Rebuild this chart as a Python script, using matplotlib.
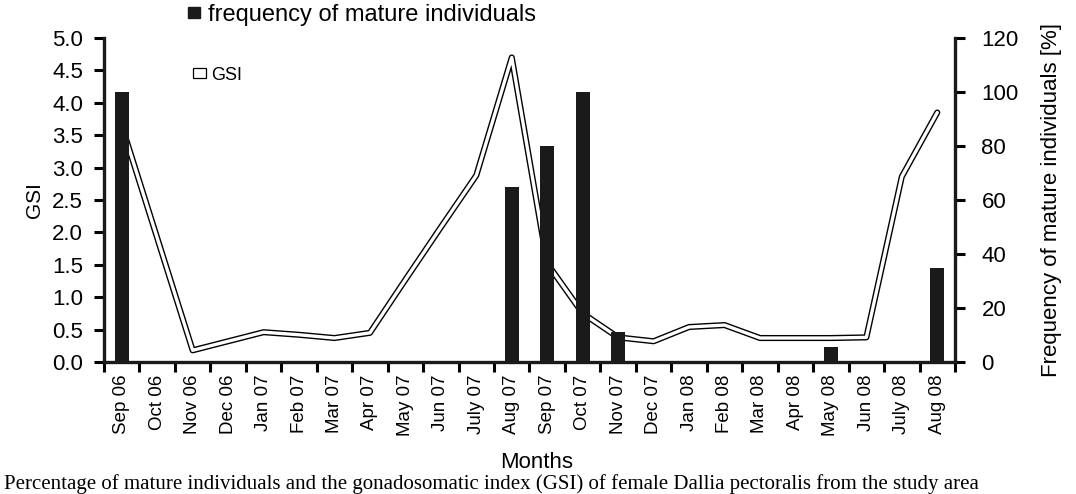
import numpy as np
import matplotlib
matplotlib.use("Agg")
import matplotlib.pyplot as plt
from matplotlib.patches import Patch

plt.rcParams["font.family"] = ["Liberation Sans", "DejaVu Sans"]

months = ["Sep 06", "Oct 06", "Nov 06", "Dec 06", "Jan 07", "Feb 07", "Mar 07", "Apr 07",
          "May 07", "Jun 07", "July 07", "Aug 07", "Sep 07", "Oct 07", "Nov 07", "Dec 07",
          "Jan 08", "Feb 08", "Mar 08", "Apr 08", "May 08", "Jun 08", "July 08", "Aug 08"]
gsi = [3.65, 2.0, 0.18, 0.32, 0.46, 0.42, 0.37, 0.45,
       1.27, 2.08, 2.88, 4.70, 1.52, 0.75, 0.38, 0.32,
       0.54, 0.57, 0.37, 0.37, 0.37, 0.38, 2.86, 3.85]
# frequency of mature individuals [%] (right axis); 0 where no bar
mature = [100, 0, 0, 0, 0, 0, 0, 0,
          0, 0, 0, 65, 80, 100, 11, 0,
          0, 0, 0, 0, 5.5, 0, 0, 35]

caption = ("Percentage of mature individuals and the gonadosomatic index (GSI) of female "
           "Dallia pectoralis from the study area")

BAR = "#1a1a1a"
W, H = 1076, 494

fig = plt.figure(figsize=(W / 100, H / 100), dpi=100)
ax = fig.add_axes([104 / W, 1 - 362 / H, (955 - 104) / W, (362 - 38) / H])
ax2 = ax.twinx()

x = np.arange(len(months))
# the Oct 06 point is not measured: line goes straight Sep 06 -> Nov 06
xl = [i for i in x if i != 1]
yl = [gsi[i] for i in xl]
ax.plot(xl, yl, color="black", lw=4.4, solid_capstyle="round", solid_joinstyle="round", zorder=2)
ax.plot(xl, yl, color="white", lw=2.4, solid_capstyle="round", solid_joinstyle="round", zorder=3)

ax2.bar(x, mature, width=0.4, color=BAR, zorder=4)
# put the bars on top of the line
ax.set_zorder(ax2.get_zorder() - 1)
ax.patch.set_visible(False)
ax2.patch.set_visible(False)

ax.set_xlim(-0.5, len(months) - 0.5)
ax.set_ylim(0, 5.0)
ax2.set_ylim(0, 120)
ax.set_yticks(np.arange(0, 5.01, 0.5))
ax.set_yticklabels([f"{v:.1f}" for v in np.arange(0, 5.01, 0.5)])
ax2.set_yticks(np.arange(0, 121, 20))

ax.set_xticks(x)
ax.set_xticklabels(months, rotation=90, fontsize=13.5)
ax.set_xticks(np.arange(-0.5, len(months)), minor=True)
ax.tick_params(axis="x", which="major", length=0, pad=9)
ax.tick_params(axis="x", which="minor", length=7, width=2.2, direction="out")
ax.tick_params(axis="y", length=7, width=2.2, labelsize=16, pad=8)
ax2.tick_params(axis="y", length=7, width=2.2, labelsize=16, pad=12)

for a in (ax, ax2):
    a.spines["top"].set_visible(False)
    for s in ("left", "right", "bottom"):
        a.spines[s].set_linewidth(2.4)
        a.spines[s].set_color("#1a1a1a")
ax.spines["right"].set_visible(False)
ax2.spines["left"].set_visible(False)
ax2.spines["bottom"].set_visible(False)

ax.set_ylabel("GSI", fontsize=15, labelpad=6)
ax2.set_ylabel("Frequency of mature individuals [%]", fontsize=16, labelpad=16)
fig.text(537 / W, 1 - 462 / H, "Months", ha="center", va="center", fontsize=16)

fig.legend(handles=[Patch(facecolor=BAR, edgecolor=BAR)], labels=["frequency of mature individuals"],
           loc="center left", bbox_to_anchor=(188 / W, 1 - 15 / H), frameon=False, fontsize=17,
           handlelength=0.5, handleheight=0.35, handletextpad=0.35, borderpad=0, borderaxespad=0)
fig.legend(handles=[Patch(facecolor="white", edgecolor="black", lw=0.9)], labels=["GSI"],
           loc="center left", bbox_to_anchor=(193 / W, 1 - 75 / H), frameon=False, fontsize=13,
           handlelength=0.7, handleheight=0.45, handletextpad=0.3, borderpad=0, borderaxespad=0)

# figure caption, cut in the source; kept inside the canvas here
fig.text(4 / W, 1 - 489 / H, caption, ha="left", va="baseline", fontsize=15,
         family=["Liberation Serif", "DejaVu Serif"])

fig.savefig("out.png", dpi=100)
